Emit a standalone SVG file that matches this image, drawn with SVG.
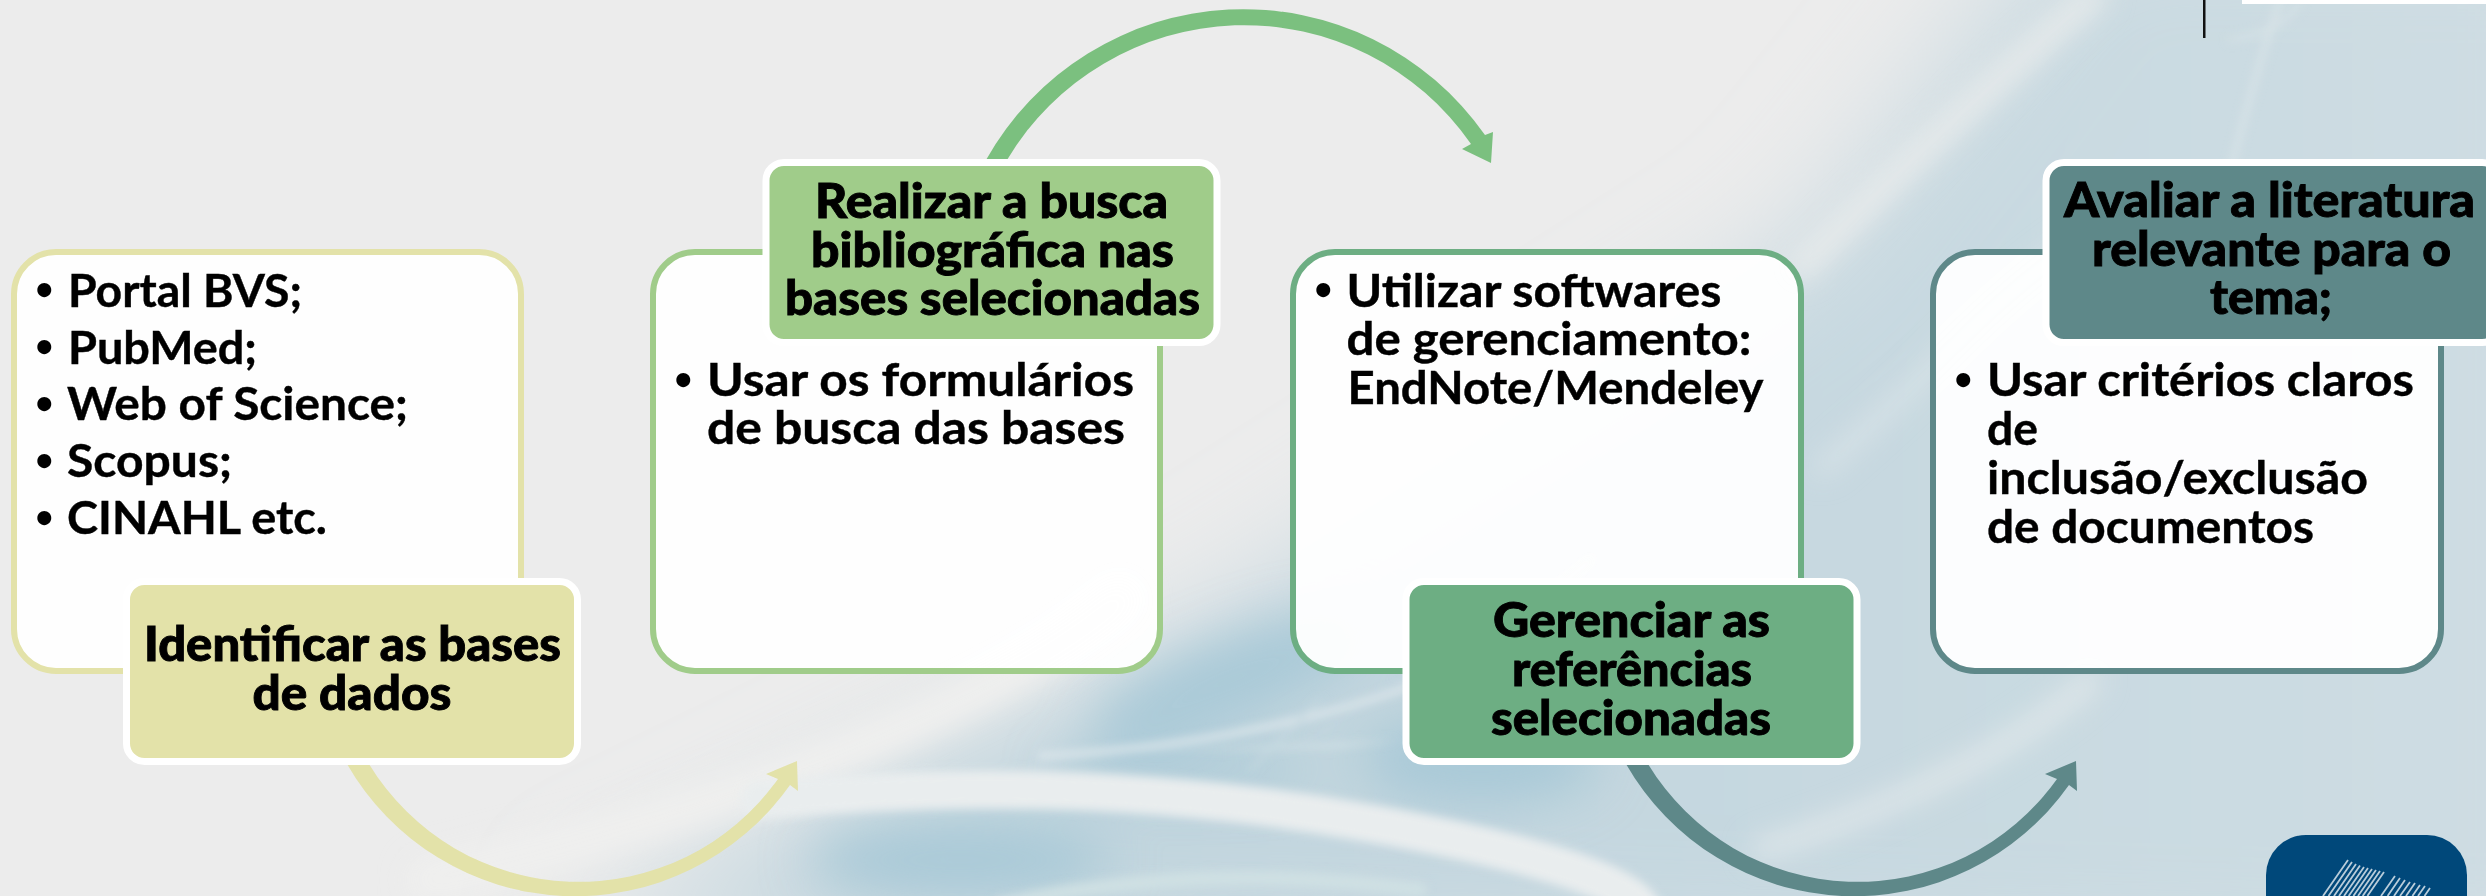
<svg xmlns="http://www.w3.org/2000/svg" width="2486" height="896" viewBox="0 0 2486 896">
<style>
.card{fill:#fff;fill-opacity:.95;stroke-width:6}
.lab{stroke:#fff;stroke-width:7}
.b{font-family:"Lato","Liberation Sans",sans-serif;font-weight:700;font-size:45px;fill:#000;stroke:#000;stroke-width:.4}
.h{font-family:"Lato","Liberation Sans",sans-serif;font-weight:900;font-size:48px;fill:#000;stroke:#000;stroke-width:.9}
.d{font-size:32px;stroke-width:0}
</style>
<defs>
<filter id="b60" x="-30%" y="-30%" width="160%" height="160%"><feGaussianBlur stdDeviation="60"/></filter>
<filter id="b25" x="-30%" y="-30%" width="160%" height="160%"><feGaussianBlur stdDeviation="25"/></filter>
<filter id="b14" x="-30%" y="-30%" width="160%" height="160%"><feGaussianBlur stdDeviation="14"/></filter>
<filter id="b5" x="-30%" y="-30%" width="160%" height="160%"><feGaussianBlur stdDeviation="5"/></filter>
<linearGradient id="bluefade" x1="0" y1="0" x2="1" y2="0"><stop offset="0" stop-color="#bcd2dc"/><stop offset=".6" stop-color="#c6d8e0"/><stop offset="1" stop-color="#cfdde3"/></linearGradient>
</defs>
<g id="background">
<rect width="2486" height="896" fill="#ececec"/>
<g filter="url(#b60)">
<path d="M2080,-100 L1800,250 L1220,620 L560,940 L2600,1000 L2600,-100Z" fill="url(#bluefade)"/>
</g>
<g filter="url(#b25)" fill="#a9c9d7">
<ellipse cx="1230" cy="680" rx="150" ry="40" transform="rotate(-22 1230 680)"/>
<ellipse cx="1180" cy="770" rx="130" ry="16"/>
<ellipse cx="960" cy="860" rx="150" ry="36"/>
<ellipse cx="1480" cy="760" rx="120" ry="45"/>
</g>
<g filter="url(#b14)" fill="none" stroke-linecap="round">
<path d="M430,880 Q680,820 860,745 T1120,600" stroke="#efefee" stroke-width="44"/>
<path d="M1760,850 Q1980,780 2092,680" stroke="#e3e9eb" stroke-width="18"/>
<path d="M1800,268 Q1960,110 2094,-5" stroke="#e9ecec" stroke-width="24"/>
<path d="M1820,470 Q1880,420 1960,340 T2140,200" stroke="#e0e8eb" stroke-width="12"/>
</g>
<g filter="url(#b5)" fill="none" stroke-linecap="round">
<path d="M760,800 Q1080,770 1380,825 T1640,930" stroke="#e9edee" stroke-width="38"/>
<path d="M1000,905 Q1200,860 1420,890" stroke="#cfe0e3" stroke-width="14"/>
<path d="M1040,756 Q1240,745 1400,690 Q1500,640 1590,560" stroke="#dfe8ec" stroke-width="6"/>
<path d="M1130,752 L1400,740 L1340,748 Z" fill="#d0e0e5" stroke="none"/>
<path d="M1250,770 L1320,700" stroke="#c9dbe2" stroke-width="3"/>
<path d="M2210,260 Q2240,120 2280,0" stroke="#d8e3e7" stroke-width="6"/>
<path d="M2230,40 Q2290,30 2300,0" stroke="#d8e3e7" stroke-width="4"/>
</g>
</g>
<g id="connectors">
<path fill="#e3e2a9" d="M347,764 A263,263 0 0 0 790,785 L798,791 L797,761 L766,774 L778,779 A245,245 0 0 1 369,764Z"/>
<path fill="#7bc07f" d="M986,160 A295,295 0 0 1 1485,135 L1493,132 L1491,163 L1462,149 L1471,144 A276,276 0 0 0 1007,160Z"/>
<path fill="#5e8889" d="M1626,764 A263,263 0 0 0 2069,785 L2077,791 L2076,761 L2045,774 L2057,779 A245,245 0 0 1 1648,764Z"/>
</g>
<g id="node-1">
<rect class="card" x="14" y="252" width="507" height="419" rx="42" stroke="#e3e2a9"/>
<g class="b">
<text class="d" x="35" y="300">•</text><text x="68" y="306.5" textLength="234" lengthAdjust="spacingAndGlyphs">Portal BVS;</text>
<text class="d" x="35" y="357">•</text><text x="68" y="364" textLength="189" lengthAdjust="spacingAndGlyphs">PubMed;</text>
<text class="d" x="35" y="414">•</text><text x="67" y="420" textLength="341" lengthAdjust="spacingAndGlyphs">Web of Science;</text>
<text class="d" x="35" y="471">•</text><text x="67" y="477" textLength="165" lengthAdjust="spacingAndGlyphs">Scopus;</text>
<text class="d" x="35" y="528">•</text><text x="67" y="534" textLength="260" lengthAdjust="spacingAndGlyphs">CINAHL etc.</text>
</g>
<rect class="lab" x="126.5" y="581.5" width="451" height="180" rx="18" fill="#e3e2a9"/>
<g class="h">
<text x="144" y="661" textLength="417" lengthAdjust="spacingAndGlyphs">Identificar as bases</text>
<text x="252.5" y="710" textLength="199" lengthAdjust="spacingAndGlyphs">de dados</text>
</g>
</g>
<g id="node-2">
<rect class="card" x="653" y="252" width="507" height="419" rx="42" stroke="#a0cc8a"/>
<rect class="lab" x="766" y="162.5" width="451" height="180" rx="18" fill="#a0cc8a"/>
<g class="h">
<text x="815" y="217.5" textLength="353" lengthAdjust="spacingAndGlyphs">Realizar a busca</text>
<text x="811" y="266.5" textLength="363" lengthAdjust="spacingAndGlyphs">bibliográfica nas</text>
<text x="785" y="315" textLength="415" lengthAdjust="spacingAndGlyphs">bases selecionadas</text>
</g>
<g class="b">
<text class="d" x="674" y="390">•</text><text x="707" y="396" textLength="427" lengthAdjust="spacingAndGlyphs">Usar os formulários</text>
<text x="707" y="444" textLength="418" lengthAdjust="spacingAndGlyphs">de busca das bases</text>
</g>
</g>
<g id="node-3">
<rect class="card" x="1293" y="252" width="508" height="419" rx="42" stroke="#6dae83"/>
<g class="b">
<text class="d" x="1314" y="300">•</text><text x="1346.5" y="306.5" textLength="375" lengthAdjust="spacingAndGlyphs">Utilizar softwares</text>
<text x="1346.5" y="355" textLength="405" lengthAdjust="spacingAndGlyphs">de gerenciamento:</text>
<text x="1347.5" y="404" textLength="416" lengthAdjust="spacingAndGlyphs">EndNote/Mendeley</text>
</g>
<rect class="lab" x="1406" y="581.5" width="451" height="180" rx="18" fill="#6dae83"/>
<g class="h">
<text x="1493" y="636.5" textLength="277" lengthAdjust="spacingAndGlyphs">Gerenciar as</text>
<text x="1512" y="686" textLength="240" lengthAdjust="spacingAndGlyphs">referências</text>
<text x="1491" y="735" textLength="280" lengthAdjust="spacingAndGlyphs">selecionadas</text>
</g>
</g>
<g id="node-4">
<rect class="card" x="1933" y="252" width="508" height="419" rx="42" stroke="#5e8889"/>
<rect class="lab" x="2046" y="162.5" width="454" height="180" rx="18" fill="#5e8889"/>
<g class="h">
<text x="2064" y="217" textLength="411" lengthAdjust="spacingAndGlyphs">Avaliar a literatura</text>
<text x="2092" y="265.5" textLength="359" lengthAdjust="spacingAndGlyphs">relevante para o</text>
<text x="2210" y="314" textLength="122" lengthAdjust="spacingAndGlyphs">tema;</text>
</g>
<g class="b">
<text class="d" x="1954" y="390">•</text><text x="1987" y="396" textLength="427" lengthAdjust="spacingAndGlyphs">Usar critérios claros</text>
<text x="1987" y="445" textLength="51" lengthAdjust="spacingAndGlyphs">de</text>
<text x="1987" y="494" textLength="381" lengthAdjust="spacingAndGlyphs">inclusão/exclusão</text>
<text x="1987" y="543" textLength="327" lengthAdjust="spacingAndGlyphs">de documentos</text>
</g>
</g>
<g id="top-marks">
<rect x="2203" y="0" width="2.5" height="38" fill="#111"/>
<rect x="2242" y="0" width="244" height="4" fill="#fff"/>
</g>
<g id="logo">
<path d="M2266,900 V875 A40,40 0 0 1 2306,835 H2427 A40,40 0 0 1 2467,875 V900Z" fill="#00487a"/>
<path fill="none" stroke="#fff" stroke-opacity=".72" stroke-width="1.8" d="M2348,860L2323,896M2352,862L2328.5,896M2356,864L2334,896M2360,865.5L2339,896M2364,867L2344,896M2368,868L2348.7,896M2372,869L2353.4,896M2376,870L2358,896M2380,871L2362.7,896M2384,872L2367.4,896M2395,876L2381,896M2400,878L2387.6,896M2405,880L2394,896M2410,882L2400,896M2415,883L2406,896M2420,885L2412.4,896M2425,886L2418,896M2430,888L2424.5,896"/>
</g>
</svg>
